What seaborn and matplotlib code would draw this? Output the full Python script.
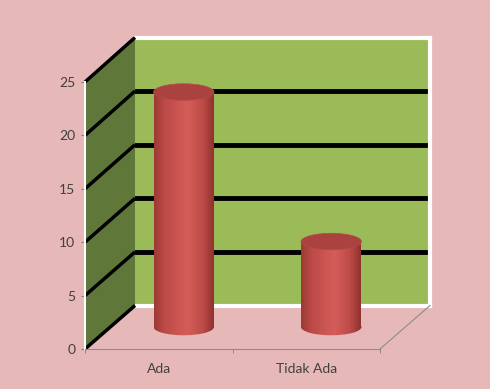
import numpy as np
import pandas as pd
import matplotlib
matplotlib.use("Agg")
import matplotlib.pyplot as plt
from matplotlib.patches import Ellipse, Polygon, PathPatch
from matplotlib.path import Path
from matplotlib.colors import LinearSegmentedColormap
from matplotlib.lines import Line2D
import seaborn as sns

# ---- data ----
categories = ["Ada", "Tidak Ada"]
values = [22, 8]
y_ticks = [0, 5, 10, 15, 20, 25]

plt.rcParams['font.family'] = ['Lato', 'DejaVu Sans']

W, H = 490, 389
BG = '#E6B9B8'
fig = plt.figure(figsize=(W / 100, H / 100), dpi=100, facecolor=BG)


def rect(l, t, r, b):
    return [l / W, 1 - b / H, (r - l) / W, (b - t) / H]


PX = 267 / 25.0  # pixels per unit
ax_back = fig.add_axes(rect(135, 37.5, 430, 305.5), zorder=0)
ax_front = fig.add_axes(rect(85, 82, 380, 349), zorder=3)
ax_mid = fig.add_axes(rect(110, 60, 405, 327 + 2 * PX), zorder=5)

for a in (ax_back, ax_front):
    a.set_ylim(0, 25)
    a.set_xlim(-0.5, 1.5)

# back wall
ax_back.set_facecolor('#9BBB59')
ax_back.set_yticks([5, 10, 15, 20])
ax_back.set_xticks([])
ax_back.tick_params(left=False, labelleft=False)
ax_back.grid(axis='y', color='black', lw=3.5)
ax_back.set_axisbelow(True)
for s in ('top', 'right', 'bottom'):
    ax_back.spines[s].set_color('white')
    ax_back.spines[s].set_linewidth(3)
ax_back.spines['left'].set_visible(False)

# front axes (ticks and labels)
ax_front.patch.set_alpha(0)
ax_front.set_yticks(y_ticks)
ax_front.set_yticklabels([str(v) for v in y_ticks], fontsize=10, color='#404040')
ax_front.set_xticks([0, 1])
ax_front.set_xticklabels(categories, fontsize=10, color='#404040')
ax_front.set_xticks([-0.5, 0.5, 1.5], minor=True)
ax_front.tick_params(axis='x', which='major', length=0, pad=10)
ax_front.tick_params(axis='x', which='minor', length=3, color='#808080', direction='out')
ax_front.tick_params(axis='y', length=3, color='#808080', direction='out', pad=4)
for s in ('top', 'right'):
    ax_front.spines[s].set_visible(False)
ax_front.spines['bottom'].set_color('#8C8C8C')
ax_front.spines['bottom'].set_linewidth(0.8)
ax_front.spines['left'].set_color('white')
ax_front.spines['left'].set_linewidth(1.5)

# side wall and floor edge, via the axes transforms
to_fig = fig.transFigure.inverted()


def fpt(ax, x, y):
    return to_fig.transform(ax.transData.transform((x, y)))


side = [fpt(ax_front, -0.5, 0), fpt(ax_front, -0.5, 25),
        fpt(ax_back, -0.5, 25), fpt(ax_back, -0.5, 0)]
fig.add_artist(Polygon(side, closed=True, transform=fig.transFigure,
                       facecolor='#5F783A', edgecolor='none', zorder=2))
for v in y_ticks:
    p0 = fpt(ax_front, -0.5, v)
    p1 = fpt(ax_back, -0.5, v)
    fig.add_artist(Line2D([p0[0], p1[0]], [p0[1], p1[1]], transform=fig.transFigure,
                          color='black', lw=2.5, zorder=2.5, solid_capstyle='butt'))
p0 = fpt(ax_front, 1.5, 0)
p1 = fpt(ax_back, 1.5, 0)
fig.add_artist(Line2D([p0[0], p1[0]], [p0[1], p1[1]], transform=fig.transFigure,
                      color='#8C8C8C', lw=0.8, zorder=2.5))

# cylinders
df = pd.DataFrame({"cat": categories, "val": values})
sns.barplot(data=df, x="cat", y="val", width=0.41, color='#C0504D', ax=ax_mid,
            saturation=1)
ax_mid.set_axis_off()
ax_mid.patch.set_alpha(0)

cmap = LinearSegmentedColormap.from_list(
    'cyl', [(0, '#9C3936'), (0.18, '#BD4A47'), (0.55, '#D55D59'),
            (0.8, '#BE4B48'), (1.0, '#8A302D')])
grad = np.linspace(0, 1, 256)[None, :]
eh = 1.55
for patch in ax_mid.patches[:len(values)]:
    x0 = patch.get_x()
    w = patch.get_width()
    h = patch.get_height()
    xc = x0 + w / 2
    patch.set_visible(False)
    rpath = Path([(x0, 0), (x0 + w, 0), (x0 + w, h), (x0, h), (x0, 0)],
                 [Path.MOVETO, Path.LINETO, Path.LINETO, Path.LINETO, Path.CLOSEPOLY])
    ell = Ellipse((xc, 0), w, eh)
    epath = ell.get_path().transformed(ell.get_patch_transform())
    for pth in (rpath, epath):
        clip = PathPatch(pth, transform=ax_mid.transData, facecolor='none', edgecolor='none')
        ax_mid.add_patch(clip)
        im = ax_mid.imshow(grad, cmap=cmap, aspect='auto',
                           extent=(x0, x0 + w, -eh, h), zorder=3)
        im.set_clip_path(clip)
    ax_mid.add_patch(Ellipse((xc, h), w, eh, facecolor='#AA4340',
                             edgecolor='#B54A47', lw=0.5, zorder=4))
ax_mid.set_ylim(-2, 25)
ax_mid.set_xlim(-0.5, 1.5)

fig.savefig('out.png', dpi=100, facecolor=BG)
